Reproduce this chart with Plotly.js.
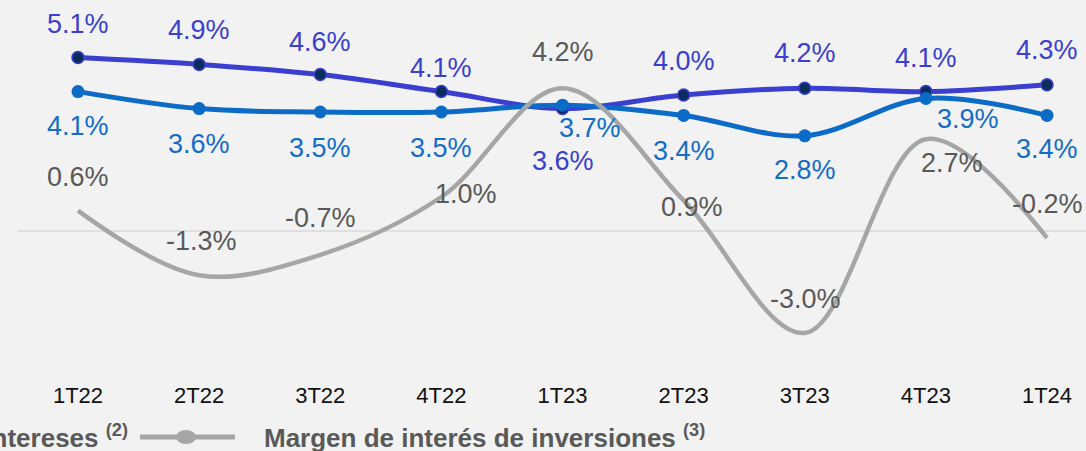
<!DOCTYPE html>
<html>
<head>
<meta charset="utf-8">
<script src="https://cdn.plot.ly/plotly-3.0.1.min.js"></script>
<style>
  html, body { margin: 0; padding: 0; background: #f2f2f2; }
  #chart { width: 1086px; height: 451px; }
</style>
</head>
<body>
<div id="chart"></div>
<script>
// ---- Data ----
const categories = ['1T22', '2T22', '3T22', '4T22', '1T23', '2T23', '3T23', '4T23', '1T24'];
const margenCreditos = [5.1, 4.9, 4.6, 4.1, 3.6, 4.0, 4.2, 4.1, 4.3];
const margenNeto = [4.1, 3.6, 3.5, 3.5, 3.7, 3.4, 2.8, 3.9, 3.4];
const margenInversiones = [0.6, -1.3, -0.7, 1.0, 4.2, 0.9, -3.0, 2.7, -0.2];
const seriesNames = [
  'Margen de interés de créditos',
  'Margen neto de intereses',
  'Margen de interés de inversiones'
];
const seriesNotes = ['(1)', '(2)', '(3)'];

// ---- Style config ----
const FONT = '"Liberation Sans", Arial, Helvetica, sans-serif';
const C_DARK = '#3a3fd0', C_DARK_MK = '#0b2d5c', C_DARK_TXT = '#3a40cd';
const C_BLUE = '#0c6bc6', C_BLUE_TXT = '#136dc6';
const C_GRAY = '#a6a6a6', C_GRAY_TXT = '#595959';
const W = 1086, H = 451, MB = 71, PLOT_H = H - MB;

// label offsets in px [xshift, yshift] (style only)
const darkOff = [[0,34],[0,34],[0,33],[0,24],[0,-52],[0,34],[0,35],[0,34],[0,35]];
const blueOff = [[0,-34],[0,-35],[0,-36],[0,-36],[27,-23],[0,-36],[0,-34],[42,-21],[0,-34]];
const grayOff = [[0,34],[2,34],[0,37],[25,3],[0,36],[8,-7],[1,34],[26,-24],[0,34]];

const fmt = v => v.toFixed(1) + '%';

const traces = [
  {
    x: categories, y: margenCreditos, type: 'scatter', mode: 'lines+markers',
    name: seriesNames[0], showlegend: false,
    line: { color: C_DARK, width: 5, shape: 'spline', smoothing: 1 },
    marker: { size: 12, color: C_DARK_MK, line: { color: C_DARK, width: 1.5 } },
    hoverinfo: 'skip'
  },
  {
    x: categories, y: margenNeto, type: 'scatter', mode: 'lines+markers',
    name: seriesNames[1], showlegend: false,
    line: { color: C_BLUE, width: 5, shape: 'spline', smoothing: 1 },
    marker: { size: 13, color: C_BLUE },
    hoverinfo: 'skip'
  },
  {
    x: categories, y: margenInversiones, type: 'scatter', mode: 'lines',
    name: seriesNames[2], showlegend: false,
    line: { color: C_GRAY, width: 4.5, shape: 'spline', smoothing: 1 },
    hoverinfo: 'skip'
  }
];

const annotations = [];
function addLabels(vals, offs, color) {
  vals.forEach((v, i) => {
    annotations.push({
      x: categories[i], y: v, xref: 'x', yref: 'y', text: fmt(v), showarrow: false,
      xshift: offs[i][0], yshift: offs[i][1],
      font: { family: FONT, size: 27, color: color }
    });
  });
}
addLabels(margenCreditos, darkOff, C_DARK_TXT);
addLabels(margenNeto, blueOff, C_BLUE_TXT);
addLabels(margenInversiones, grayOff, C_GRAY_TXT);

// ---- Manual legend (bottom, partially cut on the left like the reference) ----
const px = x => x / W;
const py = y => (PLOT_H - y) / PLOT_H;
const LEG_Y = 437;
const legendText = (i) => '<b>' + seriesNames[i] + ' <sup>' + seriesNotes[i] + '</sup></b>';
annotations.push({
  xref: 'paper', yref: 'paper', x: px(130), y: py(LEG_Y), xanchor: 'right', yanchor: 'middle',
  text: legendText(1), showarrow: false, font: { family: FONT, size: 26, color: '#595959' }
});
annotations.push({
  xref: 'paper', yref: 'paper', x: px(262), y: py(LEG_Y), xanchor: 'left', yanchor: 'middle',
  text: legendText(2), showarrow: false, font: { family: FONT, size: 26, color: '#595959' }
});

const shapes = [
  // zero line
  { type: 'line', xref: 'x', yref: 'y', x0: -0.5, x1: 8.5, y0: 0, y1: 0,
    line: { color: '#d9d9d9', width: 1.5 }, layer: 'below' },
  // legend symbol for the gray series
  { type: 'line', xref: 'paper', yref: 'paper', x0: px(140), x1: px(235), y0: py(LEG_Y), y1: py(LEG_Y),
    line: { color: C_GRAY, width: 5 } },
  { type: 'circle', xref: 'paper', yref: 'paper', x0: px(176), x1: px(196), y0: py(LEG_Y - 7), y1: py(LEG_Y + 7),
    fillcolor: C_GRAY, line: { color: C_GRAY, width: 0 } }
];

const layout = {
  width: W, height: H,
  margin: { l: 0, r: 0, t: 0, b: MB, pad: 0 },
  paper_bgcolor: '#f2f2f2', plot_bgcolor: '#f2f2f2',
  showlegend: false,
  font: { family: FONT },
  xaxis: {
    type: 'category', range: [-0.644, 8.322],
    showgrid: false, zeroline: false, showline: false, ticks: '',
    tickfont: { family: FONT, size: 22, color: '#111111' },
    fixedrange: true
  },
  yaxis: {
    range: [-4.382, 6.794], visible: false, showgrid: false, zeroline: false, fixedrange: true
  },
  annotations: annotations,
  shapes: shapes
};

Plotly.newPlot('chart', traces, layout, { displayModeBar: false, staticPlot: true });
</script>
</body>
</html>
